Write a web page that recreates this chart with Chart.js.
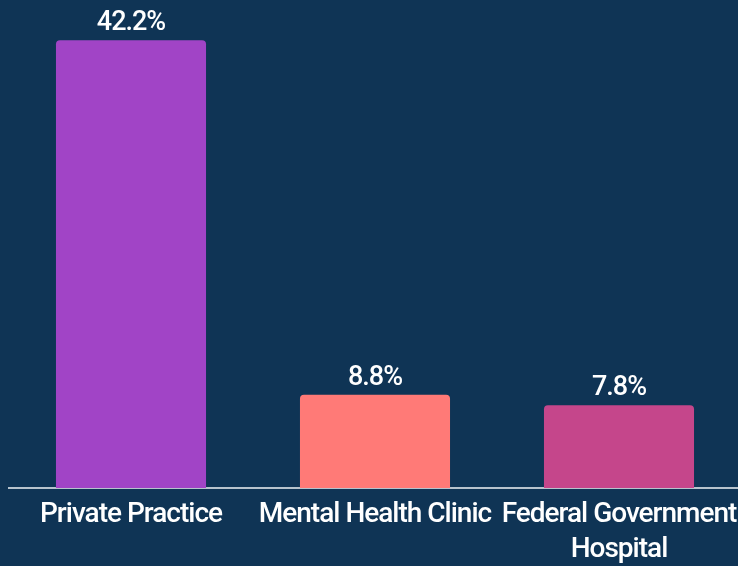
<!DOCTYPE html>
<html><head><meta charset="utf-8">
<script src="https://cdn.jsdelivr.net/npm/chart.js@4/dist/chart.umd.min.js"></script>
<style>
html,body{margin:0;padding:0;background:#0f3455;overflow:hidden;}
#wrap{width:738px;height:566px;position:relative;overflow:hidden;}
</style></head><body>
<div id="wrap"><canvas id="c" width="741" height="566"></canvas></div>
<script>
const categories = [["Private Practice"], ["Mental Health Clinic"], ["Federal Government", "Hospital"]];
const values = [42.2, 8.8, 7.8];
const barColors = ["#a144c6", "#ff7a77", "#c5468b"];
const FONT = "'Roboto', sans-serif";

const tightText = {
  id: 'tightText',
  beforeInit(chart) { chart.ctx.letterSpacing = '-1px'; },
  beforeUpdate(chart) { chart.ctx.letterSpacing = '-1px'; },
  beforeDraw(chart) { chart.ctx.letterSpacing = '-1px'; }
};

const valueLabels = {
  id: 'valueLabels',
  afterDatasetsDraw(chart) {
    const ctx = chart.ctx;
    const meta = chart.getDatasetMeta(0);
    ctx.save();
    ctx.letterSpacing = '-1px';
    ctx.fillStyle = '#ffffff';
    ctx.font = "500 27px " + FONT;
    ctx.textAlign = 'center';
    ctx.textBaseline = 'alphabetic';
    meta.data.forEach((bar, i) => {
      ctx.fillText(values[i].toFixed(1) + '%', bar.x, bar.y - 10);
    });
    ctx.restore();
  }
};

new Chart(document.getElementById('c'), {
  type: 'bar',
  data: {
    labels: categories,
    datasets: [{
      data: values,
      backgroundColor: barColors,
      borderRadius: {topLeft: 4, topRight: 4, bottomLeft: 0, bottomRight: 0},
      borderSkipped: 'bottom',
      barPercentage: 0.615,
      categoryPercentage: 1.0
    }]
  },
  options: {
    responsive: false,
    animation: false,
    layout: {padding: {left: 9, right: 0, top: 0, bottom: -10}},
    plugins: {legend: {display: false}, tooltip: {enabled: false}},
    scales: {
      x: {
        grid: {display: false, drawTicks: false},
        border: {display: true, color: '#b7c3cd', width: 2},
        ticks: {color: '#ffffff', font: {family: FONT, size: 28, weight: '500', lineHeight: 1.25}, padding: 9, maxRotation: 0, autoSkip: false},
        afterFit(scale) { scale.paddingLeft = 0; scale.paddingRight = 0; }
      },
      y: {
        display: false,
        min: 0,
        max: 46
      }
    }
  },
  plugins: [tightText, valueLabels]
});
</script>
</body></html>
